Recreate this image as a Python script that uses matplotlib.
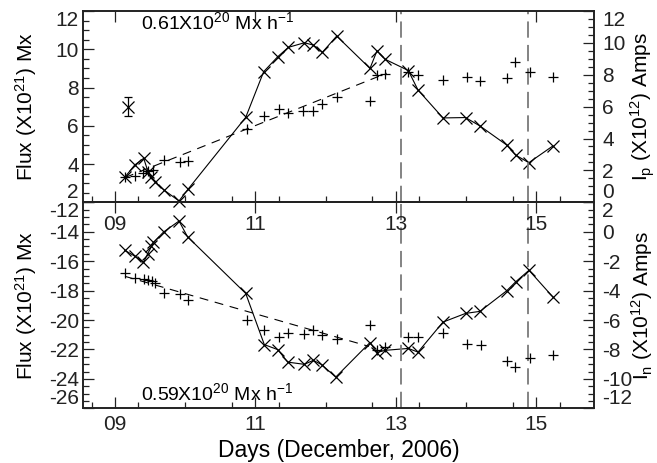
import numpy as np
import matplotlib
matplotlib.use("Agg")
import matplotlib.pyplot as plt
from matplotlib.ticker import MultipleLocator, FixedLocator

# =====================================================
# DATA
# =====================================================

# top panel: positive flux (x, solid) and Ip (+)
pos_day = [9.140, 9.281, 9.409, 9.470, 9.517, 9.566, 9.698, 9.912, 10.04,
           10.862, 11.118, 11.318, 11.469, 11.697, 11.825, 11.953, 12.158,
           12.632, 12.732, 12.846, 13.178, 13.316, 13.672, 13.993, 14.199,
           14.577, 14.705, 14.895, 15.235]
pos_flux = [3.31, 3.95, 4.30, 3.60, 3.34, 3.08, 2.64, 2.07, 2.68,
            6.44, 8.83, 9.61, 10.10, 10.34, 10.22, 9.84, 10.69,
            9.00, 9.92, 9.48, 8.89, 7.87, 6.41, 6.43, 5.99,
            5.00, 4.47, 4.07, 4.94]

ip_day = [9.142, 9.285, 9.406, 9.477, 9.541, 9.698, 9.926, 10.045,
          10.876, 11.127, 11.336, 11.460, 11.682, 11.816, 11.953, 12.158,
          12.632, 12.728, 12.846, 13.178, 13.312, 13.677, 14.010, 14.204,
          14.580, 14.702, 14.912, 15.244]
ip_val = [1.57, 1.67, 1.85, 1.95, 2.01, 2.67, 2.52, 2.57,
          4.61, 5.42, 5.88, 5.59, 5.74, 5.75, 6.17, 6.63,
          6.38, 7.97, 8.02, 8.18, 7.97, 7.68, 7.88, 7.61,
          7.80, 8.79, 8.18, 7.88]

ip_fit_day = [9.142, 12.87]
ip_fit_val = [1.55, 8.10]

err_day = [9.185]
err_flux = [7.0]
err_size = [0.5]

# bottom panel: negative flux (x, solid) and In (+)
neg_day = [9.140, 9.282, 9.406, 9.466, 9.520, 9.548, 9.691, 9.912, 10.033,
           10.862, 11.127, 11.318, 11.460, 11.697, 11.825, 11.944, 12.144,
           12.632, 12.732, 12.846, 13.178, 13.316, 13.672, 13.993, 14.199,
           14.577, 14.708, 14.897, 15.235]
neg_flux = [-15.26, -15.66, -16.08, -15.49, -15.00, -14.73, -14.02, -13.27, -14.34,
            -18.19, -21.67, -22.01, -22.86, -23.01, -22.74, -23.03, -23.88,
            -21.53, -22.21, -22.06, -21.93, -22.18, -20.14, -19.55, -19.41,
            -18.02, -17.40, -16.62, -18.42]

in_day = [9.142, 9.285, 9.413, 9.470, 9.523, 9.570, 9.702, 9.926, 10.044,
          10.876, 11.127, 11.336, 11.460, 11.697, 11.825, 11.953, 12.167,
          12.632, 12.732, 12.846, 13.178, 13.316, 13.677, 14.010, 14.207,
          14.580, 14.701, 14.905, 15.235]
in_val = [-2.81, -3.12, -3.19, -3.27, -3.37, -3.49, -4.15, -4.21, -4.61,
          -6.02, -6.65, -7.16, -6.86, -6.93, -6.70, -7.04, -7.31,
          -6.36, -8.04, -7.81, -7.16, -7.16, -6.89, -7.65, -7.72,
          -8.81, -9.20, -8.58, -8.40]

in_fit_day = [9.142, 12.617]
in_fit_val = [-3.03, -7.79]

event_days = [13.081, 14.882]

day_ticks = [9, 11, 13, 15]
day_labels = ["09", "11", "13", "15"]

flux_top_ticks = [2, 4, 6, 8, 10, 12]
ip_ticks = [0, 2, 4, 6, 8, 10, 12]
flux_bot_ticks = [-26, -24, -22, -20, -18, -16, -14, -12]
in_ticks = [-12, -10, -8, -6, -4, -2, 0, 2]

# =====================================================
# STYLE
# =====================================================

plt.rcParams["font.family"] = ["Liberation Sans", "DejaVu Sans"]
plt.rcParams["mathtext.fontset"] = "custom"
plt.rcParams["mathtext.rm"] = "Liberation Sans"
plt.rcParams["mathtext.it"] = "Liberation Sans:italic"
plt.rcParams["font.size"] = 15
plt.rcParams["axes.unicode_minus"] = False
frame_col = "#222222"

fig = plt.figure(figsize=(6.57, 4.63), dpi=100)

left, width = 0.1263, 0.7778
ax2 = fig.add_axes([left, 0.1181, width, 0.4449])
ax1 = fig.add_axes([left, 0.5631, width, 0.4131])
ax2.patch.set_visible(False)
ax1.patch.set_visible(False)
ax1r = ax1.twinx()
ax2r = ax2.twinx()

xlim = (8.544, 15.823)


def style_axis(ax, yticks, side, xpad, main=True):
    if main:
        ax.set_xlim(*xlim)
        ax.xaxis.set_major_locator(FixedLocator(day_ticks))
        ax.xaxis.set_minor_locator(MultipleLocator(2 / 3))
        ax.set_xticklabels(day_labels)
    ax.set_ylim(yticks[0], yticks[-1])
    ax.yaxis.set_major_locator(FixedLocator(yticks))
    ax.yaxis.set_minor_locator(MultipleLocator(0.5))
    ax.tick_params(axis="both", which="both", direction="in",
                   colors=frame_col, labelcolor="#222222", width=0.9)
    ax.tick_params(which="major", length=8)
    ax.tick_params(which="minor", length=4)
    ax.tick_params(axis="x", top=True, bottom=True, pad=xpad)
    if side == "left":
        ax.tick_params(axis="y", left=True, right=False, labelleft=True,
                       labelright=False, pad=3)
    else:
        ax.tick_params(axis="y", left=False, right=True, labelleft=False,
                       labelright=True, pad=6)
    for sp in ax.spines.values():
        sp.set_color(frame_col)
        sp.set_linewidth(1.2)
    # push the end labels inside the frame, as in the original
    ticks = ax.yaxis.get_major_ticks()
    ticks[0].label1.set_va("bottom")
    ticks[0].label2.set_va("bottom")
    ticks[len(yticks) - 1].label1.set_va("top")
    ticks[len(yticks) - 1].label2.set_va("top")


style_axis(ax1, flux_top_ticks, "left", 9)
style_axis(ax1r, ip_ticks, "right", 9, main=False)
style_axis(ax2, flux_bot_ticks, "left", 4.5)
style_axis(ax2r, in_ticks, "right", 4.5, main=False)

# =====================================================
# TOP PANEL
# =====================================================

ax1.plot(pos_day, pos_flux, color="k", lw=0.8, marker="x", ms=9,
         mew=0.9, clip_on=False)
ax1.errorbar(err_day, err_flux, yerr=err_size, fmt="x", color="k",
             ms=8, mew=0.9, capsize=3, elinewidth=0.9)
ax1r.plot(ip_day, ip_val, ls="none", color="k", marker="+", ms=7.5, mew=0.9)
ax1r.plot(ip_fit_day, ip_fit_val, color="k", lw=0.8, dashes=(8, 6))

ax1.text(9.37, 12.0, r"0.61X10$^{20}$ Mx h$^{-1}$", ha="left", va="top",
         fontsize=14)

# =====================================================
# BOTTOM PANEL
# =====================================================

ax2.plot(neg_day, neg_flux, color="k", lw=0.8, marker="x", ms=9, mew=0.9)
ax2r.plot(in_day, in_val, ls="none", color="k", marker="+", ms=7.5, mew=0.9)
ax2r.plot(in_fit_day, in_fit_val, color="k", lw=0.8, dashes=(8, 6))

ax2.text(9.37, -25.0, r"0.59X10$^{20}$ Mx h$^{-1}$", ha="left",
         va="center", fontsize=14)

# event markers across both panels
for ax in (ax1, ax2):
    for d in event_days:
        ax.axvline(d, color="#7a7a7a", lw=1.3, dashes=(9, 4))

# =====================================================
# LABELS
# =====================================================

ax1.set_ylabel(r"Flux (X10$^{21}$) Mx")
ax2.set_ylabel(r"Flux (X10$^{21}$) Mx")
ax1r.set_ylabel(r"I$_{\rm p}$ (X10$^{12}$) Amps")
ax2r.set_ylabel(r"I$_{\rm n}$ (X10$^{12}$) Amps")
for ax in (ax1, ax2):
    ax.yaxis.set_label_coords(-0.087, 0.5)
for ax in (ax1r, ax2r):
    ax.yaxis.set_label_coords(1.068, 0.5)

ax2.set_xlabel("Days (December, 2006)", labelpad=4, fontsize=16.5)

fig.savefig("out.png", dpi=100)
